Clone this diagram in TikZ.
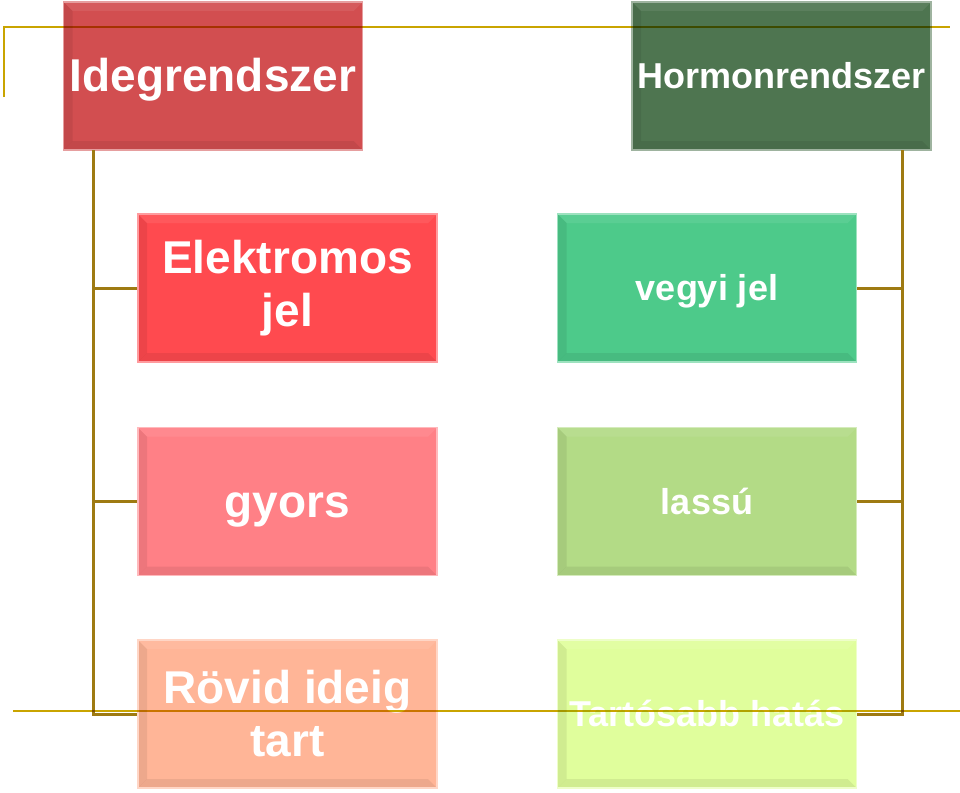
\documentclass[tikz,border=0pt]{standalone}
\usepackage{fontspec}
\setmainfont{Liberation Sans}
\usepackage{tikz}
\usetikzlibrary{positioning, calc}

\definecolor{slidegold}{HTML}{C9A400}
\definecolor{busgold}{HTML}{9E7A12}
\definecolor{idegred}{HTML}{D24E50}
\definecolor{hormgreen}{HTML}{4E7550}
\definecolor{elekred}{HTML}{FF4A4F}
\definecolor{vegyigreen}{HTML}{4DCA8A}
\definecolor{gyorspink}{HTML}{FF8086}
\definecolor{lassugreen}{HTML}{B3DB86}
\definecolor{rovidpeach}{HTML}{FFB597}
\definecolor{tartoslime}{HTML}{E0FE9C}

\begin{document}
\begin{tikzpicture}[
  x=1pt, y=-1pt,
  box/.style={draw=#1!55!white, line width=1.2pt, fill=#1,
    text=white, align=center, inner sep=0pt,
    minimum width=299pt, minimum height=148pt,
    path picture={
      \fill[black, opacity=0.07] (path picture bounding box.south west) -- ++(9pt,9pt)
        -- ([xshift=9pt,yshift=-9pt]path picture bounding box.north west)
        -- (path picture bounding box.north west) -- cycle;
      \fill[black, opacity=0.07] (path picture bounding box.south west) -- ++(9pt,9pt)
        -- ([xshift=-9pt,yshift=9pt]path picture bounding box.south east)
        -- (path picture bounding box.south east) -- cycle;
      \fill[white, opacity=0.08] (path picture bounding box.north east) -- ++(-9pt,-9pt)
        -- ([xshift=9pt,yshift=-9pt]path picture bounding box.north west)
        -- (path picture bounding box.north west) -- cycle;
    }},
  big/.style={font=\bfseries\fontsize{46}{53}\selectfont},
  small/.style={font=\bfseries\fontsize{36}{42}\selectfont},
  bigline/.style={big, text height=41.6pt, text depth=9.8pt},
  smallline/.style={small, text height=32.6pt, text depth=7.6pt},
  deco/.style={draw=slidegold, line width=1.8pt, blend mode=multiply},
  bus/.style={draw=busgold, line width=3pt}
  ]
  \useasboundingbox (0,0) rectangle (960,792);

  % headers
  \node[box=idegred, bigline] (ideg) at (213,76) {Idegrendszer};
  \node[box=hormgreen, smallline] (horm) at (781.5,76) {Hormonrendszer};

  % left column
  \node[box=elekred, big] (elek) at (287.5,288) {Elektromos\\jel};
  \node[box=gyorspink, bigline] (gyors) at (287.5,501.5) {gyors};
  \node[box=rovidpeach, big] (rovid) at (287.5,714) {Rövid ideig\\tart};

  % right column
  \node[box=vegyigreen, smallline] (vegyi) at (707,288) {vegyi jel};
  \node[box=lassugreen, smallline] (lassu) at (707,501.5) {lassú};
  \node[box=tartoslime, smallline] (tartos) at (707,714) {Tartósabb hatás};

  % connectors
  \coordinate (lbus) at (93,150);
  \coordinate (rbus) at (902,150);
  \draw[bus] (lbus) |- (elek.west);
  \draw[bus] (lbus) |- (gyors.west);
  \draw[bus] (lbus) |- (rovid.west);
  \draw[bus] (rbus) |- (vegyi.east);
  \draw[bus] (rbus) |- (lassu.east);
  \draw[bus] (rbus) |- (tartos.east);

  % slide lines
  \draw[deco] (4,97) -- (4,27) -- (950,27);
  \draw[deco] (13,711) -- (960,711);
\end{tikzpicture}
\end{document}
